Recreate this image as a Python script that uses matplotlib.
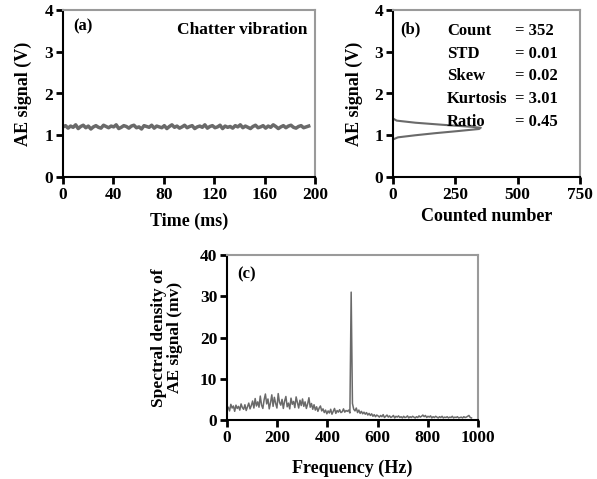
import matplotlib
matplotlib.use("Agg")
import matplotlib.pyplot as plt
import numpy as np

plt.rcParams["font.family"] = ["Liberation Serif", "DejaVu Serif"]
plt.rcParams["font.weight"] = "bold"
plt.rcParams["font.size"] = 12

# (a) AE signal over time
ae_signal = [1.20, 1.23, 1.17, 1.22, 1.19, 1.25, 1.16, 1.21, 1.24, 1.18,
             1.22, 1.15, 1.20, 1.23, 1.19, 1.17, 1.24, 1.21, 1.18, 1.22,
             1.20, 1.25, 1.16, 1.19, 1.23, 1.21, 1.17, 1.22, 1.24, 1.18,
             1.20, 1.15, 1.23, 1.21, 1.19, 1.24, 1.17, 1.22, 1.20, 1.18,
             1.23, 1.16, 1.21, 1.25, 1.19, 1.22, 1.17, 1.20, 1.24, 1.18,
             1.21, 1.23, 1.16, 1.20, 1.22, 1.19, 1.25, 1.17, 1.21, 1.23,
             1.18, 1.20, 1.24, 1.16, 1.22, 1.19, 1.21, 1.17, 1.23, 1.20,
             1.25, 1.18, 1.22, 1.19, 1.16, 1.21, 1.24, 1.18, 1.20, 1.23,
             1.17, 1.22, 1.19, 1.25, 1.21, 1.16, 1.20, 1.23, 1.18, 1.22,
             1.24, 1.19, 1.17, 1.21, 1.23, 1.18, 1.20, 1.22]
time_ms = np.linspace(0, 195, len(ae_signal))

# (b) histogram of AE signal
hist_level = [0.90, 0.95, 1.00, 1.05, 1.10, 1.15, 1.18, 1.20, 1.25, 1.30, 1.35, 1.40]
hist_count = [0, 20, 90, 170, 260, 345, 352, 320, 200, 90, 15, 0]
stat_names = ["Count", "STD", "Skew", "Kurtosis", "Ratio"]
stat_values = ["= 352", "= 0.01", "= 0.02", "= 3.01", "= 0.45"]

# (c) spectral density
density = [2.5, 3.1, 2.2, 3.8, 2.9, 3.4, 2.1, 3.6, 2.8, 3.3, 2.4, 3.9, 3.0, 2.6, 3.7,
           2.3, 3.2, 4.1, 2.7, 3.5, 4.6, 2.9, 5.2, 3.4, 4.4, 3.1, 5.8, 3.6, 2.8, 4.9,
           6.3, 3.9, 5.1, 2.7, 4.2, 6.1, 3.3, 5.5, 4.0, 2.9, 6.4, 4.3, 3.6, 5.0, 2.8,
           4.6, 5.7, 3.2, 4.1, 2.7, 5.3, 3.8, 4.5, 3.0, 5.6, 4.2, 2.9, 4.8, 3.5, 5.1,
           3.3, 4.4, 2.8, 3.9, 5.4, 3.1, 4.0, 2.6, 3.7, 2.4, 3.2, 2.1, 2.9, 3.4, 2.2,
           2.7, 1.8, 2.4, 1.5, 2.2, 1.7, 2.6, 1.4, 2.1, 2.8, 1.6, 2.3, 1.9, 2.5, 1.8,
           2.0, 2.7, 1.9, 2.3, 2.1, 2.4, 1.7, 31.0, 4.0, 2.6, 2.2, 2.9, 1.8, 2.4, 1.6,
           2.1, 1.5, 1.9, 1.4, 1.8, 1.2, 1.6, 1.1, 1.5, 0.9, 1.3, 0.8, 1.2, 1.0, 0.7,
           1.1, 0.8, 1.3, 0.6, 0.9, 1.2, 0.7, 1.0, 0.6, 0.8, 1.1, 0.5, 0.9, 0.7, 1.0,
           0.6, 0.8, 0.5, 0.9, 0.6, 0.7, 1.0, 0.5, 0.8, 0.6, 0.9, 0.7, 0.5, 0.8, 0.6,
           1.0, 0.7, 0.9, 1.2, 0.8, 1.1, 0.6, 0.9, 0.7, 1.0, 0.5, 0.8, 0.6, 0.9, 0.7,
           0.5, 0.8, 0.6, 0.9, 0.5, 0.7, 0.6, 0.8, 0.5, 0.7, 0.6, 0.9, 0.5, 0.7, 0.6,
           0.8, 0.5, 0.6, 0.7, 0.5, 0.8, 0.6, 0.7, 0.9, 1.1, 0.6, 0.5]
freq_hz = np.arange(len(density)) * 5.1

line_col = "#6a6a6a"
frame_col = "#9a9a9a"
LBL = 13
TCK = 12.5


def style_ax(ax):
    for s in ax.spines.values():
        s.set_color(frame_col)
        s.set_linewidth(1.5)
    ax.spines["left"].set_color("black")
    ax.spines["bottom"].set_color("black")
    ax.tick_params(direction="out", length=5, width=2, labelsize=TCK, pad=2)
    for lab in ax.get_xticklabels() + ax.get_yticklabels():
        lab.set_fontweight("bold")


fig = plt.figure(figsize=(5.97, 4.79), dpi=100)
W, H = 597, 479

# panel (a)
ax1 = fig.add_axes([63 / W, 1 - 177 / H, 252 / W, 167 / H])
ax1.plot(time_ms, ae_signal, color=line_col, lw=2.5)
ax1.set_xlim(0, 200)
ax1.set_ylim(0, 4)
ax1.set_xticks([0, 40, 80, 120, 160, 200])
ax1.set_yticks([0, 1, 2, 3, 4])
ax1.set_xlabel("Time (ms)", fontweight="bold", fontsize=LBL, labelpad=7)
ax1.set_ylabel("AE signal (V)", fontweight="bold", fontsize=LBL, labelpad=9)
ax1.text(0.04, 0.95, "(a)", transform=ax1.transAxes, va="top", fontsize=12, fontweight="bold")
ax1.text(0.97, 0.93, "Chatter vibration", transform=ax1.transAxes, va="top", ha="right",
         fontsize=12.5, fontweight="bold")
style_ax(ax1)

# panel (b)
ax2 = fig.add_axes([393 / W, 1 - 177 / H, 187 / W, 167 / H])
ax2.plot(hist_count, hist_level, color=line_col, lw=1.5)
ax2.set_xlim(0, 750)
ax2.set_ylim(0, 4)
ax2.set_xticks([0, 250, 500, 750])
ax2.set_yticks([0, 1, 2, 3, 4])
ax2.set_xlabel("Counted number", fontweight="bold", fontsize=LBL, labelpad=4)
ax2.set_ylabel("AE signal (V)", fontweight="bold", fontsize=LBL, labelpad=8)
ax2.text(0.04, 0.93, "(b)", transform=ax2.transAxes, va="top", fontsize=12, fontweight="bold")
for i, (n, v) in enumerate(zip(stat_names, stat_values)):
    y = 0.92 - i * 0.135
    ax2.text(0.29, y, n, transform=ax2.transAxes, va="top", fontsize=12, fontweight="bold")
    ax2.text(0.65, y, v, transform=ax2.transAxes, va="top", fontsize=12, fontweight="bold")
style_ax(ax2)

# panel (c)
ax3 = fig.add_axes([227 / W, 1 - 420 / H, 251 / W, 165 / H])
ax3.plot(freq_hz, density, color=line_col, lw=1.1)
ax3.set_xlim(0, 1000)
ax3.set_ylim(0, 40)
ax3.set_xticks([0, 200, 400, 600, 800, 1000])
ax3.set_yticks([0, 10, 20, 30, 40])
ax3.set_xlabel("Frequency (Hz)", fontweight="bold", fontsize=LBL, labelpad=10)
ax3.set_ylabel("Spectral density of\nAE signal (mv)", fontweight="bold", fontsize=12.5,
               labelpad=12, linespacing=1.0)
ax3.text(0.04, 0.93, "(c)", transform=ax3.transAxes, va="top", fontsize=12, fontweight="bold")
style_ax(ax3)

fig.savefig("out.png", dpi=100)
